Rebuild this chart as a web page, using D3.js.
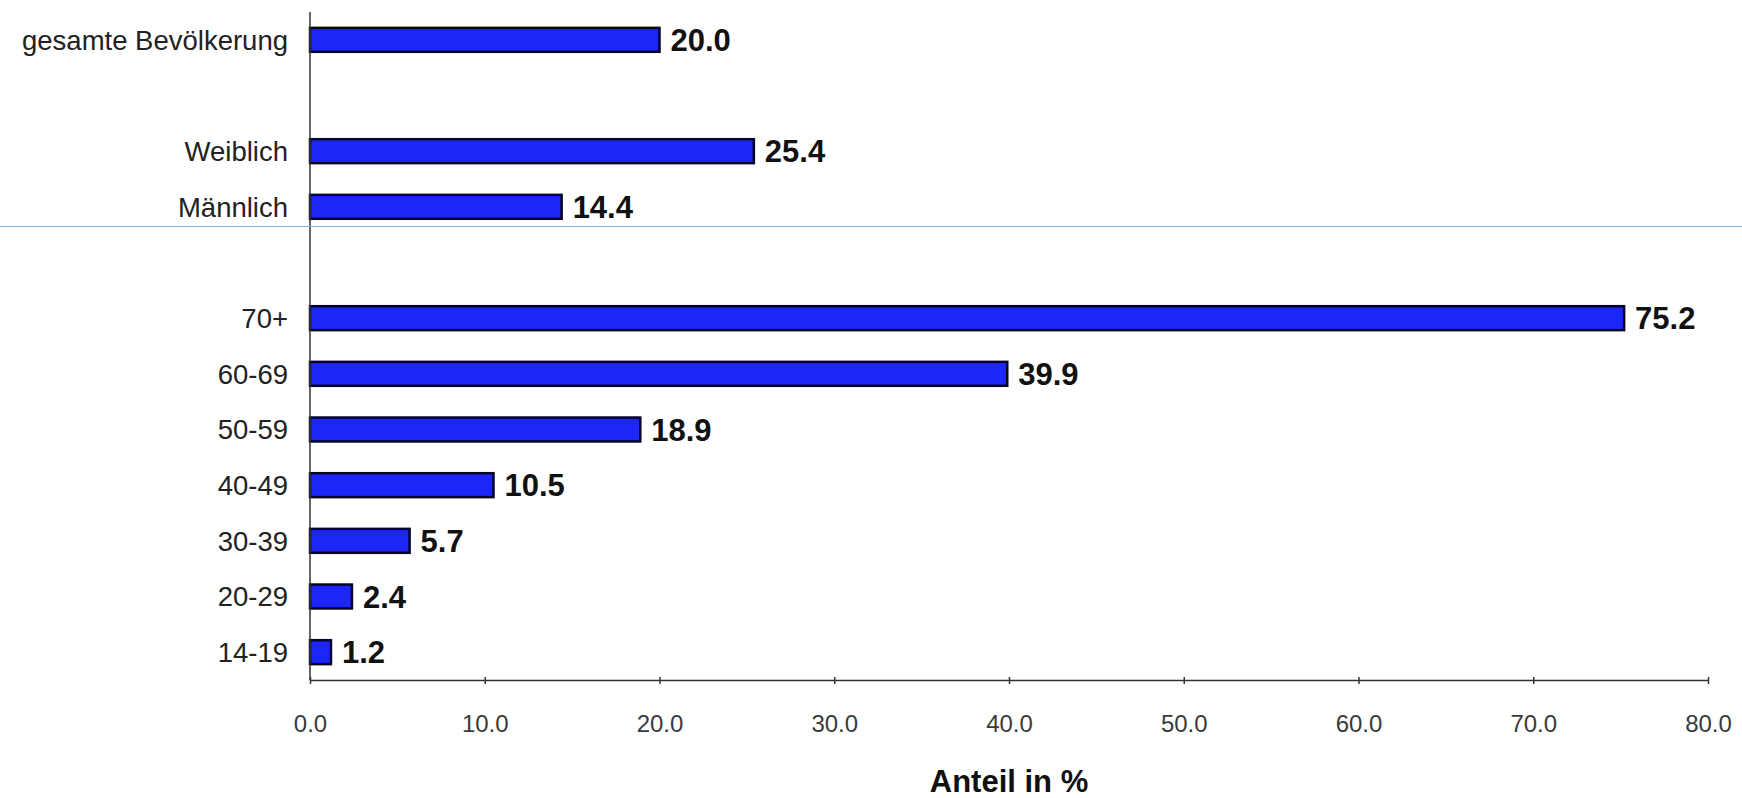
<!DOCTYPE html>
<html>
<head>
<meta charset="utf-8">
<script src="https://cdn.jsdelivr.net/npm/d3@7"></script>
<style>
  html, body { margin: 0; padding: 0; background: #fff; }
  svg { display: block; }
</style>
</head>
<body>
<svg id="chart" width="1742" height="798"></svg>
<script>
// Data
const categories = ["gesamte Bevölkerung", "", "Weiblich", "Männlich", " ", "70+", "60-69", "50-59", "40-49", "30-39", "20-29", "14-19"];
const values = [20.0, null, 25.4, 14.4, null, 75.2, 39.9, 18.9, 10.5, 5.7, 2.4, 1.2];
const xTicks = [0, 10, 20, 30, 40, 50, 60, 70, 80];
const xTitle = "Anteil in %";

const svg = d3.select("#chart");
const W = 1742, H = 798;
const mLeft = 310, mRight = 1708, mTop = 12, mBottom = 680;

const x = d3.scaleLinear().domain([0, 80]).range([mLeft, mRight]);
const y = d3.scaleBand().domain(categories).range([mTop, mBottom])
  .paddingInner(0.57).paddingOuter(0.285);

const rows = categories.map((c, i) => ({ c, v: values[i] })).filter(d => d.v !== null);

// Bars
svg.append("g").selectAll("rect").data(rows).join("rect")
  .attr("x", x(0))
  .attr("y", d => y(d.c))
  .attr("width", d => x(d.v) - x(0))
  .attr("height", y.bandwidth())
  .attr("fill", "#1b26f7")
  .attr("stroke", "#05052a")
  .attr("stroke-width", 2.5);

// Value labels
svg.append("g").selectAll("text").data(rows).join("text")
  .attr("x", d => x(d.v) + 11)
  .attr("y", d => y(d.c) + y.bandwidth() / 2)
  .attr("dy", "0.36em")
  .attr("font-family", "Liberation Sans, Arial, sans-serif")
  .attr("font-weight", "bold")
  .attr("font-size", 31)
  .attr("fill", "#111")
  .text(d => d.v.toFixed(1));

// Category labels
svg.append("g").selectAll("text").data(rows).join("text")
  .attr("x", 288)
  .attr("y", d => y(d.c) + y.bandwidth() / 2)
  .attr("dy", "0.36em")
  .attr("text-anchor", "end")
  .attr("font-family", "Liberation Sans, Arial, sans-serif")
  .attr("font-size", 27.5)
  .attr("fill", "#222")
  .text(d => d.c);

// X axis
const xAxis = d3.axisBottom(x).tickValues(xTicks).tickFormat(d3.format(".1f"))
  .tickSizeInner(4).tickSizeOuter(0).tickPadding(31);
const gx = svg.append("g").attr("transform", `translate(0,${mBottom})`).call(xAxis);
gx.select(".domain").attr("stroke", "#333").attr("stroke-width", 1.5);
gx.selectAll(".tick line").attr("stroke", "#333").attr("stroke-width", 1.5).attr("y1", -3);
gx.selectAll(".tick text")
  .attr("font-family", "Liberation Sans, Arial, sans-serif")
  .attr("font-size", 24)
  .attr("fill", "#3a3a3a");

// Y axis line
svg.append("line")
  .attr("x1", x(0)).attr("x2", x(0))
  .attr("y1", mTop).attr("y2", mBottom)
  .attr("stroke", "#333").attr("stroke-width", 1.5);

// X title
svg.append("text")
  .attr("x", (mLeft + mRight) / 2)
  .attr("y", 792)
  .attr("text-anchor", "middle")
  .attr("font-family", "Liberation Sans, Arial, sans-serif")
  .attr("font-weight", "bold")
  .attr("font-size", 31)
  .attr("fill", "#111")
  .text(xTitle);

// Thin light-blue horizontal rule across the image
svg.append("line")
  .attr("x1", 0).attr("x2", W)
  .attr("y1", 226.5).attr("y2", 226.5)
  .attr("stroke", "#7fb0e3").attr("stroke-width", 1.2);
</script>
</body>
</html>
